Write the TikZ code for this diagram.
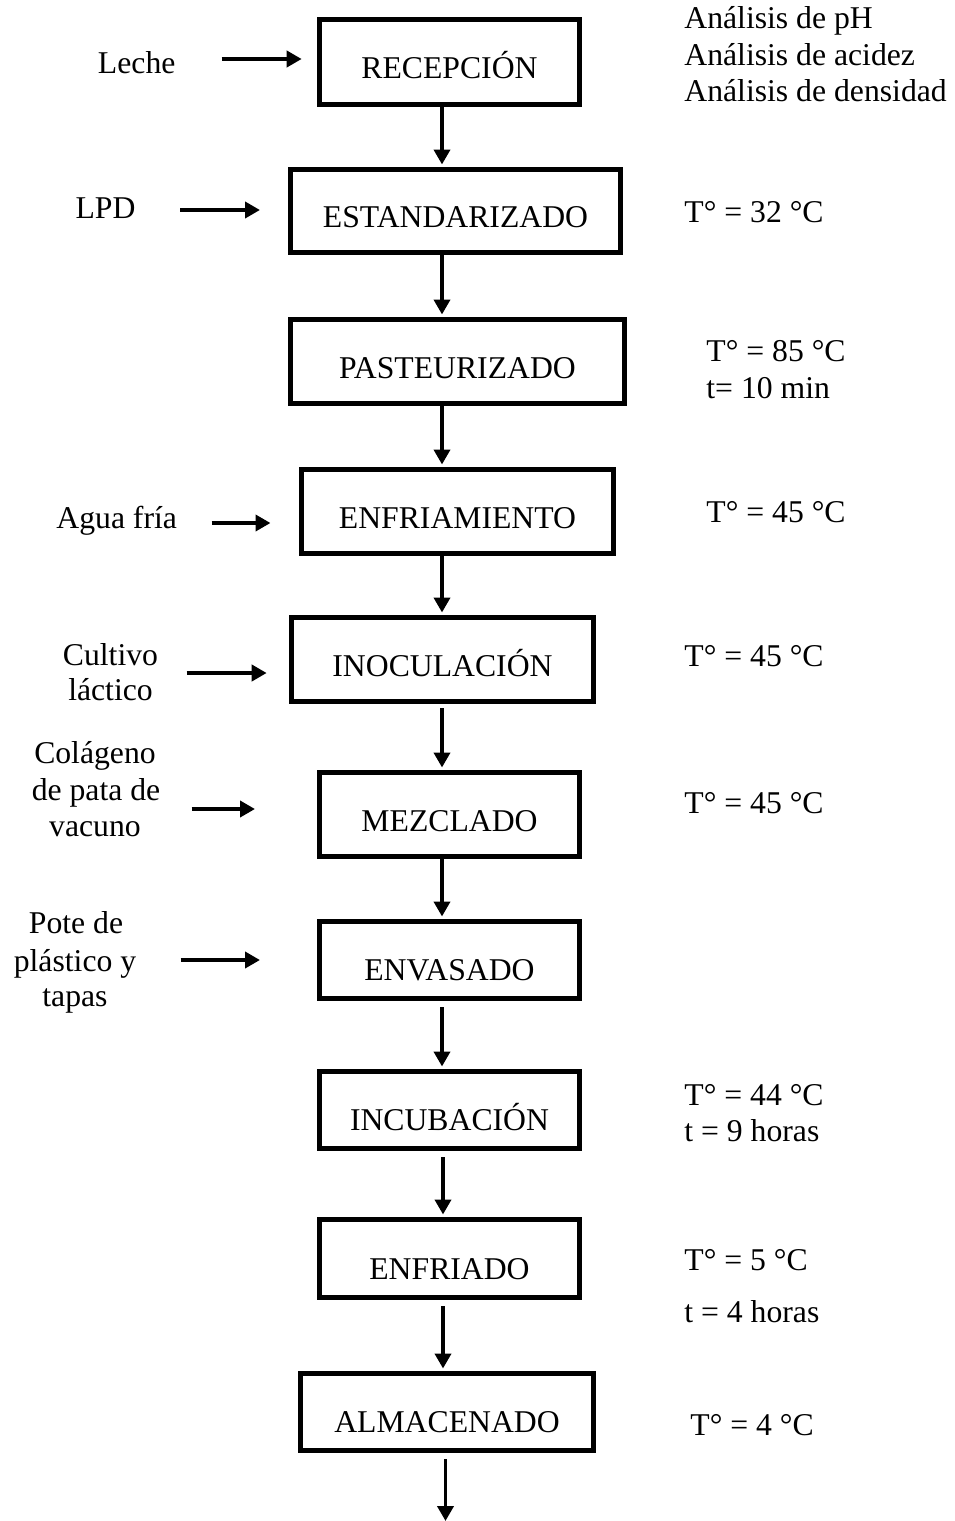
\documentclass[tikz,border=0pt]{standalone}
\usepackage{fontspec}
\setmainfont{Liberation Serif}
\usetikzlibrary{arrows.meta}
\begin{document}
\begin{tikzpicture}[x=0.5pt,y=-0.5pt,
  every node/.style={font=\fontsize{15.85pt}{18.75pt}\selectfont, inner sep=0pt},
  box/.style={draw, line width=2.5pt, rectangle, text height=16.7pt, text depth=0pt},
  boxlow/.style={box, text height=20.5pt},
  flow/.style={line width=1.9pt, -{Triangle[length=7.5pt,width=8pt]}},
  lbl/.style={anchor=base},
  rlbl/.style={anchor=base west},
]
\useasboundingbox (0,0) rectangle (954,1521);

% process boxes
\node[box, minimum width=130pt, minimum height=42.5pt] (b1) at (449.5,62) {RECEPCIÓN};
\node[box, minimum width=165pt, minimum height=41.5pt] (b2) at (455.5,211) {ESTANDARIZADO};
\node[box, minimum width=167pt, minimum height=42pt] (b3) at (457.5,361.5) {PASTEURIZADO};
\node[box, minimum width=156pt, minimum height=42pt] (b4) at (457.5,511.5) {ENFRIAMIENTO};
\node[box, minimum width=151pt, minimum height=42pt] (b5) at (442.5,659.5) {INOCULACIÓN};
\node[box, minimum width=130pt, minimum height=42pt] (b6) at (449.5,814.5) {MEZCLADO};
\node[boxlow, minimum width=130pt, minimum height=38.5pt] (b7) at (449.5,960) {ENVASADO};
\node[boxlow, minimum width=130pt, minimum height=38.5pt] (b8) at (449.5,1110) {INCUBACIÓN};
\node[boxlow, minimum width=130pt, minimum height=39pt] (b9) at (449.5,1258.5) {ENFRIADO};
\node[boxlow, minimum width=146.5pt, minimum height=38.5pt] (b10) at (447,1412) {ALMACENADO};

% vertical flow
\coordinate (ax) at (442,0);
\coordinate (bx) at (443,0);
\coordinate (cx) at (445.5,0);
\coordinate (endpt) at (445.5,1521);
\draw[flow, shorten >=1.25pt] (b1.south -| ax) -- (b2.north -| ax);
\draw[flow, shorten >=1.25pt] (b2.south -| ax) -- (b3.north -| ax);
\draw[flow, shorten >=1.25pt] (b3.south -| ax) -- (b4.north -| ax);
\draw[flow, shorten >=1.25pt] (b4.south -| ax) -- (b5.north -| ax);
\draw[flow, shorten >=1.25pt, shorten <=2pt] (b5.south -| ax) -- (b6.north -| ax);
\draw[flow, shorten >=1.25pt] (b6.south -| ax) -- (b7.north -| ax);
\draw[flow, shorten >=1.25pt, shorten <=3pt] (b7.south -| ax) -- (b8.north -| ax);
\draw[flow, shorten >=1.25pt, shorten <=3pt] (b8.south -| bx) -- (b9.north -| bx);
\draw[flow, shorten >=1.25pt, shorten <=3pt] (b9.south -| bx) -- (b10.north -| bx);
\draw[flow, shorten <=3pt] (b10.south -| cx) -- (endpt);

% inputs on the left
\node[lbl] (l1) at (136.7,73.3) {Leche};
\node[lbl] (l2) at (105.5,218.3) {LPD};
\node[lbl] (l4) at (116.7,528.3) {Agua fría};
\node[lbl] (l5a) at (110.5,665) {Cultivo};
\node[lbl] (l5b) at (110.5,700) {láctico};
\node[lbl] (l6a) at (95,763) {Colágeno};
\node[lbl] (l6b) at (96,800) {de pata de};
\node[lbl] (l6c) at (95,836.7) {vacuno};
\node[lbl] (l7a) at (76,933) {Pote de};
\node[lbl] (l7b) at (75,971.7) {plástico y};
\node[lbl] (l7c) at (75,1006.7) {tapas};

\coordinate (i1s) at (221.7,59);   \coordinate (i1e) at (301.7,59);
\coordinate (i2s) at (180,210);    \coordinate (i2e) at (260,210);
\coordinate (i4s) at (211.7,523);  \coordinate (i4e) at (270.5,523);
\coordinate (i5s) at (186.7,673);  \coordinate (i5e) at (266.7,673);
\coordinate (i6s) at (191.7,809);  \coordinate (i6e) at (255,809);
\coordinate (i7s) at (180.7,960);  \coordinate (i7e) at (260,960);
\draw[flow] (i1s) -- (i1e);
\draw[flow] (i2s) -- (i2e);
\draw[flow] (i4s) -- (i4e);
\draw[flow] (i5s) -- (i5e);
\draw[flow] (i6s) -- (i6e);
\draw[flow] (i7s) -- (i7e);

% conditions on the right
\node[rlbl] (r1a) at (684,28.3) {Análisis de pH};
\node[rlbl] (r1b) at (684,65) {Análisis de acidez};
\node[rlbl] (r1c) at (684,101.7) {Análisis de densidad};
\node[rlbl] (r2) at (684,222.7) {T° = 32 °C};
\node[rlbl] (r3a) at (706,361.7) {T° = 85 °C};
\node[rlbl] (r3b) at (706,398.3) {t= 10 min};
\node[rlbl] (r4) at (706,522.7) {T° = 45 °C};
\node[rlbl] (r5) at (684,666) {T° = 45 °C};
\node[rlbl] (r6) at (684,813.3) {T° = 45 °C};
\node[rlbl] (r8a) at (684,1105) {T° = 44 °C};
\node[rlbl] (r8b) at (684,1141.7) {t = 9 horas};
\node[rlbl] (r9a) at (684,1270.7) {T° = 5 °C};
\node[rlbl] (r9b) at (684,1322.7) {t = 4 horas};
\node[rlbl] (r10) at (690,1435) {T° = 4 °C};
\end{tikzpicture}
\end{document}
